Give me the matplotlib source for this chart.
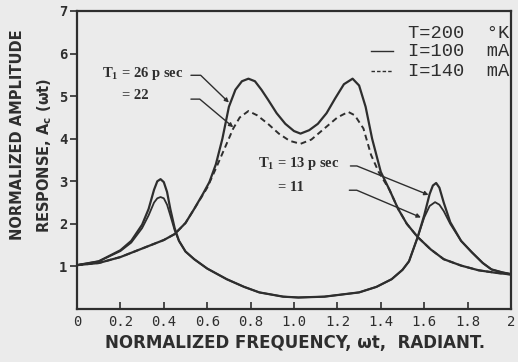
import matplotlib
matplotlib.use('Agg')
from matplotlib import pyplot as plt

# T1 = 26 psec, I = 100 mA (solid, large double peak)
freq_a = [0.0, 0.1, 0.2, 0.3, 0.4, 0.45, 0.5, 0.54, 0.58, 0.61, 0.64, 0.67, 0.70, 0.73, 0.76, 0.79,
          0.82, 0.85, 0.88, 0.92, 0.96, 1.0, 1.03, 1.07, 1.11, 1.15, 1.19, 1.23, 1.27, 1.30, 1.33,
          1.36, 1.40, 1.44, 1.48, 1.52, 1.57, 1.63, 1.69, 1.77, 1.85, 1.93, 2.0]
amp_a = [1.03, 1.08, 1.22, 1.42, 1.62, 1.76, 2.02, 2.35, 2.7, 2.98, 3.4, 4.0, 4.75, 5.15, 5.35, 5.41,
         5.35, 5.15, 4.92, 4.6, 4.35, 4.18, 4.12, 4.2, 4.35, 4.6, 4.95, 5.28, 5.41, 5.25, 4.75,
         4.0, 3.22, 2.8, 2.35, 2.0, 1.69, 1.4, 1.17, 1.02, 0.91, 0.85, 0.81]

# T1 = 22 psec, I = 140 mA (dashed)
freq_b = [0.0, 0.1, 0.2, 0.3, 0.4, 0.45, 0.5, 0.54, 0.58, 0.6, 0.64, 0.68, 0.72, 0.75, 0.79, 0.83,
          0.88, 0.93, 0.98, 1.03, 1.08, 1.14, 1.2, 1.25, 1.28, 1.32, 1.355, 1.39, 1.44, 1.48, 1.52,
          1.57, 1.63, 1.69, 1.77, 1.85, 1.93, 2.0]
amp_b = [1.03, 1.08, 1.22, 1.42, 1.62, 1.76, 2.02, 2.35, 2.68, 2.85, 3.3, 3.77, 4.24, 4.5, 4.65, 4.55,
         4.35, 4.12, 3.95, 3.88, 3.98, 4.24, 4.5, 4.63, 4.55, 4.24, 3.62, 3.22, 2.8, 2.35, 2.0,
         1.69, 1.4, 1.17, 1.02, 0.91, 0.85, 0.81]

# T1 = 13 psec (solid, narrow peaks)
freq_c = [0.0, 0.1, 0.2, 0.25, 0.3, 0.33, 0.355, 0.37, 0.385, 0.4, 0.415, 0.43, 0.45, 0.47, 0.5,
          0.54, 0.6, 0.69, 0.77, 0.84, 0.95, 1.02, 1.14, 1.3, 1.38, 1.45, 1.5, 1.53, 1.57, 1.6,
          1.625, 1.64, 1.655, 1.67, 1.69, 1.72, 1.77, 1.82, 1.87, 1.91, 1.96, 2.0]
amp_c = [1.03, 1.12, 1.38, 1.6, 1.98, 2.35, 2.8, 3.0, 3.05, 2.98, 2.75, 2.35, 1.9, 1.6, 1.35,
         1.17, 0.95, 0.7, 0.52, 0.39, 0.29, 0.27, 0.29, 0.39, 0.52, 0.7, 0.92, 1.12, 1.69, 2.2,
         2.7, 2.9, 2.96, 2.85, 2.5, 2.04, 1.6, 1.33, 1.08, 0.93, 0.86, 0.82]

# T1 = 11 psec
freq_d = [0.0, 0.1, 0.2, 0.25, 0.3, 0.33, 0.355, 0.37, 0.385, 0.4, 0.415, 0.43, 0.45, 0.47, 0.5,
          0.54, 0.6, 0.69, 0.77, 0.84, 0.95, 1.02, 1.14, 1.3, 1.38, 1.45, 1.5, 1.53, 1.57, 1.6,
          1.625, 1.65, 1.67, 1.69, 1.72, 1.77, 1.82, 1.87, 1.91, 1.96, 2.0]
amp_d = [1.03, 1.12, 1.36, 1.56, 1.9, 2.2, 2.5, 2.6, 2.63, 2.6, 2.45, 2.2, 1.85, 1.6, 1.35,
         1.17, 0.95, 0.7, 0.52, 0.39, 0.29, 0.27, 0.29, 0.39, 0.52, 0.7, 0.92, 1.12, 1.69, 2.15,
         2.42, 2.51, 2.45, 2.3, 2.0, 1.6, 1.33, 1.08, 0.93, 0.86, 0.82]

xticks = [0, 0.2, 0.4, 0.6, 0.8, 1.0, 1.2, 1.4, 1.6, 1.8, 2.0]
xtick_labels = ['0', '0.2', '0.4', '0.6', '0.8', '1.0', '1.2', '1.4', '1.6', '1.8', '2']
yticks = [1, 2, 3, 4, 5, 6, 7]

ink = '#2e2e2e'
paper = '#ebebeb'

fig = plt.figure(figsize=(5.18, 3.62), dpi=100, facecolor=paper)
ax = fig.add_axes([77 / 518, 1 - 309 / 362, 434 / 518, 298 / 362], facecolor=paper)

ax.plot(freq_a, amp_a, color=ink, lw=1.6)
ax.plot(freq_b, amp_b, color=ink, lw=1.4, ls=(0, (3, 2)))
ax.plot(freq_c, amp_c, color=ink, lw=1.6)
ax.plot(freq_d, amp_d, color=ink, lw=1.3)

ax.set_xlim(0, 2)
ax.set_ylim(0, 7)
ax.set_xticks(xticks)
ax.set_xticklabels(xtick_labels, family='DejaVu Sans Mono', fontsize=10, color=ink)
ax.set_yticks(yticks)
ax.set_yticklabels([str(v) for v in yticks], family='DejaVu Sans Mono', fontsize=10,
                   fontweight='bold', color=ink)
ax.tick_params(axis='x', direction='in', length=5, width=1.2, color=ink, pad=4)
ax.tick_params(axis='y', direction='out', length=5, width=1.2, color=ink, pad=2)
for s in ax.spines.values():
    s.set_linewidth(1.6)
    s.set_color(ink)

# legend block, top right
leg = dict(family='Liberation Mono', fontsize=13.5, color=ink, ha='right', va='center')
ax.text(1.99, 6.48, 'T=200  \u00b0K', **leg)
ax.text(1.99, 6.06, 'I=100  mA', **leg)
ax.text(1.99, 5.59, 'I=140  mA', **leg)
ax.plot([1.353, 1.454], [6.06, 6.06], color=ink, lw=1.0)
ax.plot([1.353, 1.454], [5.59, 5.59], color=ink, lw=1.0, ls=(0, (2.5, 1.5)))

# curve labels with leaders
lab = dict(family='Liberation Serif', fontsize=10.5, fontweight='bold', color=ink, va='center')
ax.text(0.115, 5.54, 'T$_\\mathregular{1}$ = 26 p sec', **lab)
ax.text(0.209, 5.02, '= 22', **lab)
ax.text(0.834, 3.41, 'T$_\\mathregular{1}$ = 13 p sec', **lab)
ax.text(0.926, 2.86, '= 11', **lab)

arrow = dict(arrowstyle='-|>', color=ink, lw=1.0, mutation_scale=6, shrinkA=0, shrinkB=0)
ax.annotate('', xy=(0.70, 4.85), xytext=(0.525, 5.49),
            arrowprops=dict(connectionstyle='angle,angleA=0,angleB=136,rad=0', **arrow))
ax.annotate('', xy=(0.72, 4.27), xytext=(0.525, 4.93),
            arrowprops=dict(connectionstyle='angle,angleA=0,angleB=140,rad=0', **arrow))
ax.annotate('', xy=(1.62, 2.68), xytext=(1.26, 3.36),
            arrowprops=dict(connectionstyle='angle,angleA=0,angleB=158,rad=0', **arrow))
ax.annotate('', xy=(1.585, 2.15), xytext=(1.255, 2.79),
            arrowprops=dict(connectionstyle='angle,angleA=0,angleB=157,rad=0', **arrow))

# axis titles
title = dict(family='DejaVu Sans', fontweight='bold', color=ink, ha='center', va='center')
fig.text(0.033, 0.627, 'NORMALIZED AMPLITUDE', rotation=90, fontsize=10.5, **title)
fig.text(0.087, 0.572, 'RESPONSE, A$_\\mathregular{c}$ (\u03c9t)', rotation=90, fontsize=10.5,
         **title)
fig.text(0.569, 0.052, 'NORMALIZED FREQUENCY, \u03c9t,  RADIANT.', fontsize=12, **title)

fig.savefig('out.png', dpi=100, facecolor=paper)
